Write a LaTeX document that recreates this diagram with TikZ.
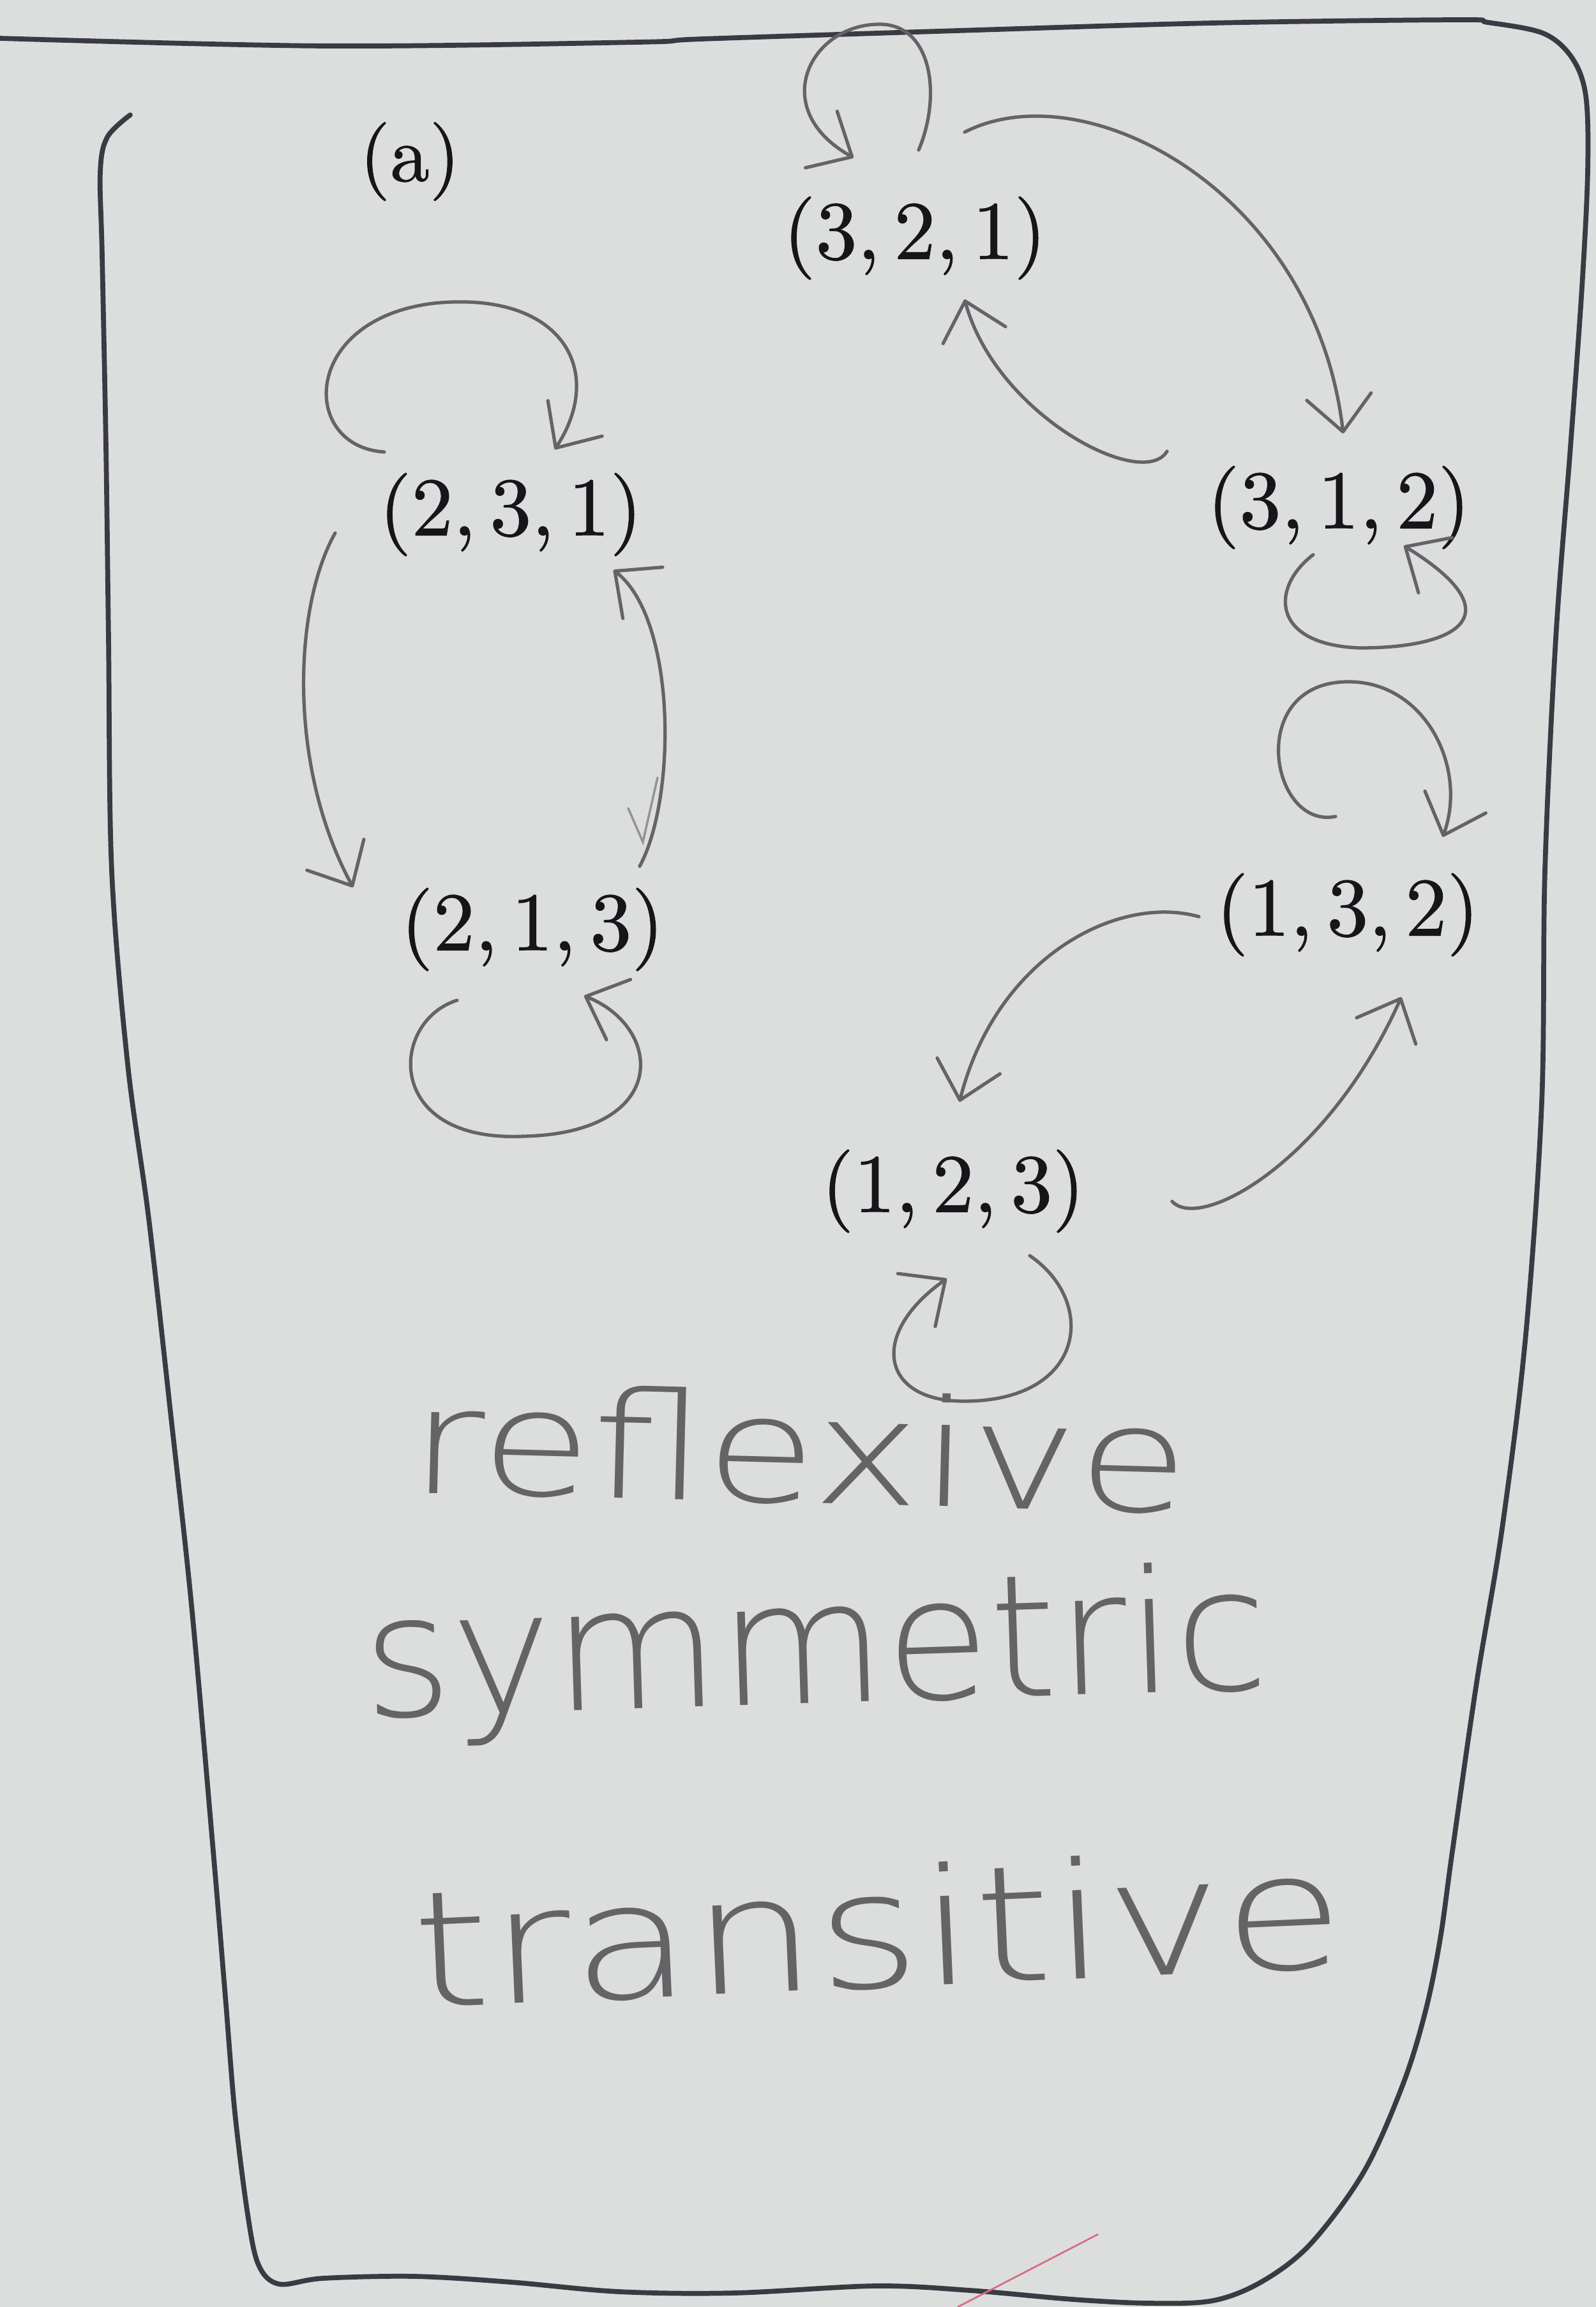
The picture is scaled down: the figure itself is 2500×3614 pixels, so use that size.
\documentclass[tikz,border=0pt]{standalone}
\usepackage{fontspec}
\usetikzlibrary{arrows.meta,calc}
\IfFontExistsTF{DejaVu Sans ExtraLight}{\newfontfamily\handfont{DejaVu Sans ExtraLight}}{\newfontfamily\handfont{DejaVu Sans}}
\IfFontExistsTF{lmroman10-regular.otf}{\newfontfamily\tfont{lmroman10-regular.otf}[FakeBold=0.8]}{\newfontfamily\tfont{Latin Modern Roman}[FakeBold=1.2]}
\definecolor{paper}{RGB}{220,222,222}
\definecolor{pencil}{RGB}{100,100,104}
\definecolor{pen}{RGB}{58,58,66}
\definecolor{hand}{RGB}{100,100,103}
\definecolor{ink}{RGB}{22,22,26}
\definecolor{redpen}{RGB}{215,110,130}
\newcommand{\tpl}[3]{(#1,\,#2,\,#3)}
\begin{document}
\begin{tikzpicture}[x=0.01cm,y=-0.01cm,
  arr/.style={draw=pencil, line width=1.5pt, line cap=round, line join=round,
              -{Straight Barb[angle=85:7.5mm, round]}},
  tup/.style={text=ink, font=\tfont\fontsize{37}{44}\selectfont, inner sep=0pt},
  hw/.style={text=hand, inner sep=0pt, anchor=base west},
  border/.style={draw=pen, line width=2.2pt, line cap=round, line join=round}]
\fill[paper] (0,0) rectangle (2500,3614);
\useasboundingbox (0,0) rectangle (2500,3614);

% hand-drawn frame
\draw[border] plot[smooth, tension=0.55] coordinates {
 (204,180) (168,215) (157,270) (160,400) (166,700) (170,1000) (175,1364)
 (200,1667) (233,1909) (267,2212) (300,2515) (334,2900) (353,3128) (368,3310)
 (388,3469) (405,3548) (437,3578) (506,3569) (650,3566) (800,3575) (970,3590)
 (1150,3592) (1371,3581) (1520,3588) (1680,3602) (1800,3608) (1900,3604)
 (1977,3574) (2053,3515) (2137,3401) (2198,3264) (2233,3150) (2256,3037)
 (2275,2900) (2313,2636) (2353,2394) (2390,2091) (2415,1727) (2420,1364)
 (2437,1000) (2460,700) (2478,450) (2487,268) (2484,150) (2462,90) (2417,52)
 (2330,35) (2283,31) (1900,36) (1500,48) (1100,61) (1000,66) (510,72) (0,60)};
% red stray mark
\draw[redpen, line width=0.8pt] (1500,3614) -- (1720,3500);

% label and nodes
\node[text=ink, font=\tfont\fontsize{35}{42}\selectfont, inner sep=0pt] (lbl) at (642,253) {(a)};
\node[tup] (n321) at (1433,373) {\tpl321};
\node[tup] (n231) at (800,806) {\tpl231};
\node[tup] (n312) at (2097,795) {\tpl312};
\node[tup] (n213) at (834,1456) {\tpl213};
\node[tup] (n132) at (2111,1433) {\tpl132};
\node[tup] (n123) at (1493,1866) {\tpl123};

% loops
\draw[arr] ($(n321)+(6,-138)$) .. controls +(36,-85) and +(80,2) .. ($(n321)+(-53,-335)$)
           .. controls +(-110,-2) and +(-137,-77) .. ($(n321)+(-96,-126)$);
\draw[arr] ($(n231)+(-198,-98)$) .. controls +(-132,-8) and +(-210,25) .. ($(n231)+(-120,-331)$)
           .. controls +(200,-20) and +(81,-124) .. ($(n231)+(69,-102)$);
\draw[arr] ($(n213)+(-118,111)$) .. controls +(-106,33) and +(-220,10) .. ($(n213)+(-14,324)$)
           .. controls +(230,-5) and +(125,50) .. ($(n213)+(81,104)$);
\draw[arr] ($(n312)+(-40,74)$) .. controls +(-67,51) and +(-140,-5) .. ($(n312)+(33,220)$)
           .. controls +(160,0) and +(171,105) .. ($(n312)+(102,60)$);
\draw[arr] ($(n132)+(-19,-154)$) .. controls +(-102,21) and +(-160,2) .. ($(n132)+(-1,-365)$)
           .. controls +(120,-2) and +(40,-111) .. ($(n132)+(149,-122)$);
\draw[arr] ($(n123)+(120,101)$) .. controls +(107,73) and +(190,0) .. ($(n123)+(17,329)$)
           .. controls +(-130,0) and +(-123,87) .. ($(n123)+(-10,137)$);

% connectors between nodes
\draw[arr] ($(n321)+(78,-166)$) .. controls +(189,-97) and +(-44,-379) .. ($(n312)+(7,-116)$);
\draw[arr] ($(n312)+(-269,-88)$) .. controls +(-38,63) and +(49,181) .. ($(n321)+(78,96)$);
\draw[arr] ($(n231)+(-275,29)$) .. controls +(-65,115) and +(-103,-190) .. ($(n213)+(-281,-66)$);
\draw[arr] ($(n213)+(168,-99)$) .. controls +(58,-107) and +(99,77) .. ($(n231)+(161,87)$);
\draw[arr] ($(n132)+(-233,3)$) .. controls +(-128,-36) and +(57,-226) .. ($(n123)+(10,-140)$);
\draw[arr] ($(n123)+(343,16)$) .. controls +(44,48) and +(-115,258) .. ($(n132)+(84,129)$);
% small stray stroke
\draw[pencil!70, line width=1pt, line cap=round] (984,1266) -- (1007,1319) -- (1030,1218);

% handwritten words
\node[hw, font=\handfont\fontsize{66}{80}\selectfont, rotate=-1.5, xscale=1.22] (w1) at (640,2338) {reflexive};
\node[hw, font=\handfont\fontsize{76}{90}\selectfont, rotate=1.8, xscale=1.0] (w2) at (571,2690) {symmetric};
\node[hw, font=\handfont\fontsize{72}{86}\selectfont, rotate=2.5, xscale=1.22] (w3) at (650,3145) {transitive};
\end{tikzpicture}
\end{document}
